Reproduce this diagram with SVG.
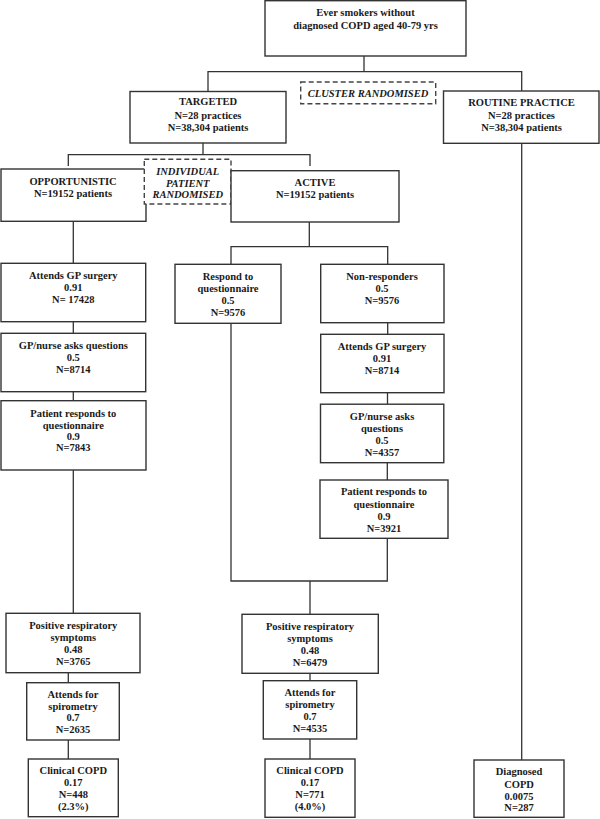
<svg xmlns="http://www.w3.org/2000/svg" width="600" height="819" viewBox="0 0 600 819">
<style>
.box{fill:#fff;stroke:#333;stroke-width:1.4}
.dash{fill:#fff;stroke:#444;stroke-width:1.4;stroke-dasharray:5 3}
.conn{fill:none;stroke:#333;stroke-width:1.3}
text{font-family:"Liberation Serif","Times New Roman",serif;font-size:10.5px;font-weight:bold;fill:#1a1a1a;text-anchor:middle}
.it{font-style:italic}
</style>
<rect width="600" height="819" fill="#fff"/>
<g id="connectors">
<path class="conn" d="M364 56V71.7M208 91.5V71.7H521.7V91"/>
<path class="conn" d="M203 143V154.7M68.3 166V154.7H310V166"/>
<path class="conn" d="M73.3 221.3V263.3M73.3 321.7V333.3M73.3 391.7V400.7M73.3 470V613.3M68.3 672.7V682.7M68.3 740V759"/>
<path class="conn" d="M309.3 222V246.7M231 264.3V246.7H387.7V264.3M387.7 322.7V334.3M387.5 392.7V404.3M387.3 462.7V480"/>
<path class="conn" d="M231 323.3V581H387.3V538.3M310 581V614.3M310 673.3V680.7M310 739V759"/>
<path class="conn" d="M521.7 143.3V760"/>
</g>
<g id="top"><rect class="box" x="265" y="0.7" width="201" height="55.3"/>
<text x="365.5" y="16">Ever smokers without</text><text x="365.5" y="29">diagnosed COPD aged 40-79 yrs</text></g>
<g id="cluster"><rect class="dash" x="300.7" y="82" width="135" height="21.7"/>
<text class="it" x="368" y="96.7">CLUSTER RANDOMISED</text></g>
<g id="targeted"><rect class="box" x="130" y="91.5" width="156" height="51.5"/>
<text x="208" y="105.4">TARGETED</text><text x="208" y="119">N=28 practices</text><text x="208" y="131">N=38,304 patients</text></g>
<g id="routine"><rect class="box" x="443.5" y="91" width="155.5" height="52.3"/>
<text x="521.5" y="106.4">ROUTINE PRACTICE</text><text x="521.5" y="119">N=28 practices</text><text x="521.5" y="130.7">N=38,304 patients</text></g>
<g id="opportunistic"><rect class="box" x="1" y="169" width="145" height="52.3"/>
<text x="73" y="185">OPPORTUNISTIC</text><text x="73" y="197">N=19152 patients</text></g>
<g id="individual"><rect class="dash" x="144.3" y="159.3" width="86.7" height="44.7"/>
<text class="it" x="187.7" y="175.4">INDIVIDUAL</text><text class="it" x="187.7" y="186.7">PATIENT</text><text class="it" x="187.7" y="198">RANDOMISED</text></g>
<g id="active"><rect class="box" x="231" y="170.7" width="168" height="51.3"/>
<text x="315" y="186.4">ACTIVE</text><text x="315" y="197.7">N=19152 patients</text></g>
<g id="opp-attends"><rect class="box" x="1" y="263.3" width="144.7" height="58.4"/>
<text x="73.3" y="279">Attends GP surgery</text><text x="73.3" y="291.4">0.91</text><text x="73.3" y="303">N= 17428</text></g>
<g id="opp-asks"><rect class="box" x="1" y="333.3" width="144.7" height="58.4"/>
<text x="73.3" y="349.4">GP/nurse asks questions</text><text x="73.3" y="361">0.5</text><text x="73.3" y="373">N=8714</text></g>
<g id="opp-responds"><rect class="box" x="1" y="400.7" width="145" height="69.3"/>
<text x="73.3" y="417">Patient responds to</text><text x="73.3" y="428.7">questionnaire</text><text x="73.3" y="439.7">0.9</text><text x="73.3" y="451.4">N=7843</text></g>
<g id="opp-positive"><rect class="box" x="6" y="613.3" width="134" height="59.4"/>
<text x="73.3" y="628.7">Positive respiratory</text><text x="73.3" y="641.4">symptoms</text><text x="73.3" y="653">0.48</text><text x="73.3" y="665.4">N=3765</text></g>
<g id="opp-spiro"><rect class="box" x="26.7" y="682.7" width="92.6" height="57.3"/>
<text x="73" y="697.7">Attends for</text><text x="73" y="709.7">spirometry</text><text x="73" y="721.4">0.7</text><text x="73" y="733">N=2635</text></g>
<g id="opp-copd"><rect class="box" x="28.3" y="759" width="90" height="57.7"/>
<text x="73.3" y="774.4">Clinical COPD</text><text x="73.3" y="786.4">0.17</text><text x="73.3" y="798.4">N=448</text><text x="73.3" y="809.7">(2.3%)</text></g>
<g id="act-respond"><rect class="box" x="175" y="264.3" width="106" height="59"/>
<text x="228" y="279.7">Respond to</text><text x="228" y="292.4">questionnaire</text><text x="228" y="303.7">0.5</text><text x="228" y="316.4">N=9576</text></g>
<g id="act-nonresp"><rect class="box" x="320.7" y="264.3" width="123.3" height="58.4"/>
<text x="382" y="279.7">Non-responders</text><text x="382" y="292.4">0.5</text><text x="382" y="303.7">N=9576</text></g>
<g id="act-attends"><rect class="box" x="320.7" y="334.3" width="123.3" height="58.4"/>
<text x="382" y="350.4">Attends GP surgery</text><text x="382" y="362.4">0.91</text><text x="382" y="374.4">N=8714</text></g>
<g id="act-asks"><rect class="box" x="320.5" y="404.2" width="123.3" height="58.5"/>
<text x="382" y="419.7">GP/nurse asks</text><text x="382" y="432.4">questions</text><text x="382" y="444">0.5</text><text x="382" y="456">N=4357</text></g>
<g id="act-responds"><rect class="box" x="320" y="480" width="128" height="58.3"/>
<text x="384" y="495.4">Patient responds to</text><text x="384" y="507.7">questionnaire</text><text x="384" y="520">0.9</text><text x="384" y="532">N=3921</text></g>
<g id="act-positive"><rect class="box" x="242" y="614.3" width="136.3" height="59"/>
<text x="310" y="630.4">Positive respiratory</text><text x="310" y="642.4">symptoms</text><text x="310" y="653.7">0.48</text><text x="310" y="666">N=6479</text></g>
<g id="act-spiro"><rect class="box" x="263.3" y="680.7" width="93.4" height="58.3"/>
<text x="310" y="695.7">Attends for</text><text x="310" y="707.7">spirometry</text><text x="310" y="719.7">0.7</text><text x="310" y="732">N=4535</text></g>
<g id="act-copd"><rect class="box" x="265" y="759" width="90" height="58.3"/>
<text x="310" y="773.7">Clinical COPD</text><text x="310" y="786">0.17</text><text x="310" y="798.4">N=771</text><text x="310" y="810.4">(4.0%)</text></g>
<g id="routine-copd"><rect class="box" x="474" y="760" width="90" height="57.3"/>
<text x="519" y="775.4">Diagnosed</text><text x="519" y="787.7">COPD</text><text x="519" y="800">0.0075</text><text x="519" y="811.4">N=287</text></g>
</svg>
